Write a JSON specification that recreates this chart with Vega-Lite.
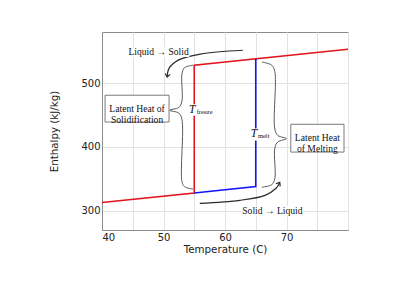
{
  "$schema": "https://vega.github.io/schema/vega-lite/v6.json",
  "width": 246,
  "height": 198,
  "autosize": {"type": "none"},
  "padding": {"left": 102, "top": 32, "right": 72, "bottom": 60},
  "background": "white",
  "config": {
    "view": {"stroke": "#8c8c8c", "strokeWidth": 1},
    "axis": {
      "grid": true,
      "gridColor": "#e2e2e2",
      "gridWidth": 1,
      "domainColor": "#8c8c8c",
      "ticks": false,
      "labelFont": "DejaVu Sans",
      "labelFontSize": 10,
      "labelColor": "#222222",
      "titleFont": "DejaVu Sans",
      "titleFontSize": 10.3,
      "titleFontWeight": "normal",
      "titleColor": "#222222"
    }
  },
  "encoding": {
    "x": {
      "field": "T",
      "type": "quantitative",
      "scale": {"domain": [40, 80], "nice": false, "zero": false},
      "axis": {
        "title": "Temperature (C)",
        "values": [40, 45, 50, 55, 60, 65, 70, 75, 80],
        "labelExpr": "datum.value % 10 == 0 && datum.value < 80 ? datum.label : ''",
        "labelPadding": 2,
        "titlePadding": 2
      }
    },
    "y": {
      "field": "H",
      "type": "quantitative",
      "scale": {"domain": [270, 580], "nice": false, "zero": false},
      "axis": {
        "title": "Enthalpy (kJ/kg)",
        "values": [300, 400, 500],
        "labelPadding": 2,
        "titlePadding": 21
      }
    }
  },
  "layer": [
    {
      "data": {"values": [
        {"i": 0, "T": 40, "H": 313},
        {"i": 1, "T": 55, "H": 328},
        {"i": 2, "T": 55, "H": 528},
        {"i": 3, "T": 80, "H": 553}
      ]},
      "mark": {"type": "line", "color": "#e3141e", "strokeWidth": 1.6},
      "encoding": {"order": {"field": "i"}}
    },
    {
      "data": {"values": [
        {"i": 0, "T": 55, "H": 328},
        {"i": 1, "T": 65, "H": 338},
        {"i": 2, "T": 65, "H": 538}
      ]},
      "mark": {"type": "line", "color": "#1414f5", "strokeWidth": 1.6},
      "encoding": {"order": {"field": "i"}}
    },
    {
      "data": {"values": [
        {"b": "left", "i": 0, "T": 54.8, "H": 528},
        {"b": "left", "i": 1, "T": 53.4, "H": 524},
        {"b": "left", "i": 2, "T": 53.0, "H": 514},
        {"b": "left", "i": 3, "T": 53.0, "H": 472},
        {"b": "left", "i": 4, "T": 52.5, "H": 462},
        {"b": "left", "i": 5, "T": 51.0, "H": 457.5},
        {"b": "left", "i": 6, "T": 52.5, "H": 453},
        {"b": "left", "i": 7, "T": 53.0, "H": 443},
        {"b": "left", "i": 8, "T": 53.0, "H": 346},
        {"b": "left", "i": 9, "T": 53.4, "H": 338},
        {"b": "left", "i": 10, "T": 54.8, "H": 334},
        {"b": "right", "i": 0, "T": 66.0, "H": 533},
        {"b": "right", "i": 1, "T": 67.6, "H": 528},
        {"b": "right", "i": 2, "T": 68.1, "H": 518},
        {"b": "right", "i": 3, "T": 68.1, "H": 428},
        {"b": "right", "i": 4, "T": 68.6, "H": 418},
        {"b": "right", "i": 5, "T": 70.0, "H": 413},
        {"b": "right", "i": 6, "T": 68.6, "H": 408},
        {"b": "right", "i": 7, "T": 68.1, "H": 398},
        {"b": "right", "i": 8, "T": 68.1, "H": 350},
        {"b": "right", "i": 9, "T": 67.6, "H": 341},
        {"b": "right", "i": 10, "T": 66.0, "H": 337}
      ]},
      "mark": {"type": "line", "color": "#5a5a5a", "strokeWidth": 1, "interpolate": "catmull-rom"},
      "encoding": {"detail": {"field": "b"}, "order": {"field": "i"}}
    },
    {
      "data": {"values": [
        {"a": "ls", "i": 0, "T": 62.9, "H": 551.4},
        {"a": "ls", "i": 1, "T": 56.0, "H": 545.5},
        {"a": "ls", "i": 2, "T": 52.4, "H": 536},
        {"a": "ls", "i": 3, "T": 50.9, "H": 523},
        {"a": "ls", "i": 4, "T": 50.6, "H": 509.5},
        {"a": "sl", "i": 0, "T": 55.9, "H": 311.8},
        {"a": "sl", "i": 1, "T": 62.4, "H": 316.5},
        {"a": "sl", "i": 2, "T": 66.5, "H": 324.3},
        {"a": "sl", "i": 3, "T": 68.3, "H": 335.3},
        {"a": "sl", "i": 4, "T": 68.9, "H": 344.5}
      ]},
      "mark": {"type": "line", "color": "#2a2a2a", "strokeWidth": 1.2, "interpolate": "catmull-rom"},
      "encoding": {"detail": {"field": "a"}, "order": {"field": "i"}}
    },
    {
      "data": {"values": [{"T": 50.6, "H": 509.5}]},
      "mark": {"type": "point", "shape": "M -0.8 -1 L 0 0 L 0.8 -1", "filled": false, "stroke": "#2a2a2a", "strokeWidth": 1.2, "size": 40, "angle": 10, "opacity": 1}
    },
    {
      "data": {"values": [{"T": 68.9, "H": 344.5}]},
      "mark": {"type": "point", "shape": "M -0.8 -1 L 0 0 L 0.8 -1", "filled": false, "stroke": "#2a2a2a", "strokeWidth": 1.2, "size": 40, "angle": 212, "opacity": 1}
    },
    {
      "data": {"values": [
        {"T": 54.45, "T2": 57.3, "H": 467, "H2": 449},
        {"T": 64.3, "T2": 67.1, "H": 429, "H2": 410},
        {"T": 44.3, "T2": 54.2, "H": 556, "H2": 541},
        {"T": 62.9, "T2": 72.6, "H": 307.5, "H2": 292.5}
      ]},
      "mark": {"type": "rect", "fill": "white", "stroke": null},
      "encoding": {"x2": {"field": "T2"}, "y2": {"field": "H2"}}
    },
    {
      "data": {"values": [
        {"T": 40.5, "T2": 50.9, "H": 481, "H2": 439},
        {"T": 70.7, "T2": 79.35, "H": 435.5, "H2": 392}
      ]},
      "mark": {"type": "rect", "fill": "white", "stroke": "#7a7a7a", "strokeWidth": 1},
      "encoding": {"x2": {"field": "T2"}, "y2": {"field": "H2"}}
    },
    {
      "data": {"values": [
        {"T": 45.7, "H": 460.2, "label": "Latent Heat of\nSolidification"},
        {"T": 75.02, "H": 413.6, "label": "Latent Heat\nof Melting"}
      ]},
      "mark": {"type": "text", "font": "Liberation Serif", "fontSize": 9.6, "lineHeight": 11, "lineBreak": "\n", "color": "#111111", "align": "center", "baseline": "middle"},
      "encoding": {"text": {"field": "label"}}
    },
    {
      "data": {"values": [
        {"T": 49.2, "H": 548.7, "label": "Liquid → Solid"},
        {"T": 67.7, "H": 300, "label": "Solid → Liquid"}
      ]},
      "mark": {"type": "text", "font": "Liberation Serif", "fontSize": 9.6, "color": "#111111", "align": "center", "baseline": "middle"},
      "encoding": {"text": {"field": "label"}}
    },
    {
      "data": {"values": [
        {"T": 54.65, "H": 458.5, "label": "T"},
        {"T": 64.7, "H": 420.5, "label": "T"}
      ]},
      "mark": {"type": "text", "font": "Liberation Serif", "fontSize": 11.5, "fontStyle": "italic", "color": "#111111", "align": "center", "baseline": "middle"},
      "encoding": {"text": {"field": "label"}}
    },
    {
      "data": {"values": [
        {"T": 55.4, "H": 454.5, "label": "freeze"},
        {"T": 65.35, "H": 416.5, "label": "melt"}
      ]},
      "mark": {"type": "text", "font": "Liberation Serif", "fontSize": 6.5, "color": "#111111", "align": "left", "baseline": "middle"},
      "encoding": {"text": {"field": "label"}}
    }
  ]
}
